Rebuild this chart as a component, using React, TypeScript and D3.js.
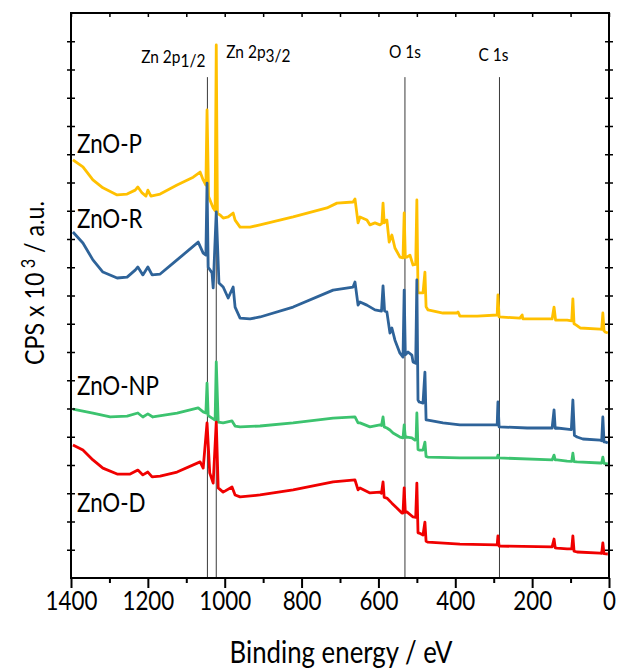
import React, { useEffect, useRef } from "react";
import * as d3 from "d3";

// [binding energy (eV), CPS x 10^3 (offset, a.u.)]
const znoP: [number, number][] = [
  [1395, 14.8], [1369, 14.55], [1343, 14.09], [1317, 13.81], [1280, 13.56], [1254, 13.59],
  [1233, 13.73], [1226, 13.84], [1215, 13.63], [1205, 13.52], [1200, 13.73], [1192, 13.52],
  [1168, 13.59], [1124, 13.91], [1082, 14.19], [1064, 14.37], [1056, 14.09], [1049, 13.91],
  [1046, 16.57], [1042, 13.5], [1030, 13.1], [1025, 13.0], [1022, 18.87], [1019, 12.9],
  [1012, 12.85], [1004, 12.74], [991, 12.78], [978, 12.92], [973, 12.67], [960, 12.42],
  [934, 12.42], [908, 12.5], [822, 12.78], [734, 13.1], [708, 13.27], [666, 13.31],
  [661, 13.42], [653, 12.57], [648, 12.78], [630, 12.67], [622, 12.5], [609, 12.57],
  [596, 12.5], [591, 12.55], [588, 13.27], [585, 12.57], [578, 12.67], [572, 11.89],
  [565, 12.14], [557, 11.68], [544, 11.36], [536, 11.33], [533, 12.92], [530, 11.35],
  [526, 11.36], [518, 11.43], [510, 11.08], [503, 11.1], [500, 13.38], [497, 10.1],
  [494, 10.09], [484, 10.09], [479, 10.83], [476, 9.6], [471, 9.49], [432, 9.38],
  [396, 9.38], [393, 9.42], [388, 9.27], [343, 9.27], [291, 9.31], [289, 10.02],
  [286, 9.24], [232, 9.2], [226, 9.31], [224, 9.17], [148, 9.17], [143, 9.59],
  [139, 9.13], [109, 9.13], [97, 9.1], [94, 9.88], [91, 9.0], [86, 8.96],
  [75, 8.85], [23, 8.81], [19, 8.8], [16, 9.38], [13, 8.75], [10, 8.71], [3, 8.67],
];

const znoR: [number, number][] = [
  [1395, 12.25], [1369, 11.86], [1343, 11.26], [1317, 10.83], [1280, 10.62], [1254, 10.65],
  [1233, 10.9], [1226, 11.01], [1213, 10.73], [1200, 11.01], [1189, 10.73], [1168, 10.76],
  [1124, 11.26], [1069, 11.89], [1056, 11.5], [1049, 11.43], [1046, 13.98], [1043, 11.0],
  [1033, 10.8], [1030, 10.27], [1022, 12.96], [1015, 10.44], [1004, 10.3], [991, 9.91],
  [978, 10.3], [973, 9.59], [960, 9.2], [934, 9.17], [908, 9.24], [822, 9.59],
  [718, 10.19], [666, 10.3], [661, 10.48], [653, 9.66], [648, 9.77], [630, 9.66],
  [609, 9.49], [592, 9.45], [588, 10.34], [584, 9.45], [578, 9.42], [570, 8.67],
  [565, 8.85], [557, 8.42], [544, 7.96], [536, 7.82], [533, 10.19], [530, 7.9],
  [523, 8.0], [513, 7.89], [510, 7.65], [503, 7.6], [500, 10.55], [497, 6.3],
  [494, 6.23], [484, 6.19], [479, 7.29], [476, 5.6], [471, 5.59], [432, 5.49],
  [388, 5.42], [291, 5.42], [289, 6.23], [286, 5.35], [213, 5.31], [148, 5.31],
  [143, 5.95], [140, 5.3], [135, 5.31], [109, 5.27], [98, 5.25], [94, 6.3],
  [90, 5.05], [83, 4.99], [68, 4.92], [23, 4.88], [19, 4.86], [16, 5.7],
  [13, 4.82], [8, 4.81], [3, 4.78],
];

const znoNP: [number, number][] = [
  [1395, 5.98], [1343, 5.84], [1298, 5.7], [1254, 5.73], [1226, 5.84], [1213, 5.7],
  [1200, 5.81], [1187, 5.7], [1124, 5.84], [1069, 6.02], [1056, 5.88], [1049, 5.84],
  [1046, 6.9], [1043, 5.75], [1033, 5.66], [1025, 5.59], [1022, 7.65], [1017, 5.52],
  [1004, 5.49], [981, 5.56], [973, 5.38], [960, 5.35], [908, 5.38], [822, 5.49],
  [718, 5.66], [661, 5.7], [653, 5.49], [648, 5.49], [622, 5.35], [596, 5.42],
  [592, 5.4], [588, 5.7], [585, 5.35], [578, 5.31], [570, 5.24], [562, 5.13],
  [544, 4.99], [536, 4.96], [533, 5.42], [530, 4.98], [526, 4.99], [513, 4.96],
  [505, 4.88], [502, 4.9], [500, 5.84], [497, 4.55], [494, 4.53], [484, 4.53],
  [479, 4.81], [476, 4.3], [471, 4.28], [388, 4.25], [291, 4.25], [289, 4.35],
  [286, 4.25], [148, 4.18], [143, 4.35], [140, 4.18], [135, 4.18], [109, 4.14],
  [97, 4.13], [94, 4.42], [91, 4.12], [83, 4.11], [23, 4.07], [19, 4.07],
  [16, 4.28], [13, 4.06], [3, 4.04],
];

const znoD: [number, number][] = [
  [1395, 4.71], [1369, 4.53], [1343, 4.18], [1317, 3.89], [1280, 3.68], [1246, 3.68],
  [1226, 3.82], [1213, 3.65], [1200, 3.75], [1189, 3.58], [1168, 3.61], [1124, 3.75],
  [1064, 4.11], [1056, 3.89], [1046, 5.49], [1039, 3.72], [1030, 3.36], [1022, 5.52],
  [1017, 3.19], [1004, 3.04], [981, 3.22], [973, 2.94], [960, 2.87], [908, 2.94],
  [822, 3.12], [718, 3.4], [661, 3.47], [653, 3.12], [648, 3.19], [622, 3.01],
  [596, 3.04], [592, 3.0], [588, 3.4], [585, 2.85], [578, 2.83], [565, 2.65],
  [552, 2.48], [539, 2.3], [536, 2.3], [533, 3.19], [530, 2.32], [526, 2.34],
  [510, 2.16], [503, 2.15], [500, 3.36], [497, 1.6], [494, 1.59], [484, 1.52],
  [479, 1.98], [476, 1.3], [471, 1.27], [388, 1.2], [291, 1.17], [289, 1.49],
  [286, 1.13], [148, 1.1], [143, 1.38], [140, 1.07], [135, 1.06], [109, 1.03],
  [97, 1.03], [94, 1.49], [91, 0.95], [83, 0.92], [23, 0.88], [19, 0.87],
  [16, 1.24], [13, 0.86], [3, 0.85],
];

const seriesNames = ["ZnO-P", "ZnO-R", "ZnO-NP", "ZnO-D"];
const seriesColors = ["#FFC000", "#2E6399", "#3CC36F", "#F00000"];

const peakNames = ["Zn 2p", "Zn 2p", "O 1s", "C 1s"];
const peakSubs = ["1/2", "3/2", "", ""];
const peakEnergies = [1045, 1022, 531, 285];
const peakLineTop = 17.73;

const xMajorTicks = [1400, 1200, 1000, 800, 600, 400, 200, 0];
const xMinorTicks = [1300, 1100, 900, 700, 500, 300, 100];

const App = () => {
  const svgRef = useRef<SVGSVGElement>(null);

  useEffect(() => {
    const width = 619;
    const height = 672;
    const margin = { top: 13, right: 10, bottom: 94, left: 71 };
    const font = "Lato, 'Open Sans', sans-serif";
    const sx = 0.86;

    const svg = d3.select(svgRef.current);
    svg.selectAll("*").remove();
    svg.attr("width", width).attr("height", height);

    const x = d3.scaleLinear().domain([1400, 0]).range([margin.left, width - margin.right]);
    const y = d3.scaleLinear().domain([0, 20]).range([height - margin.bottom, margin.top]);

    // peak marker lines
    peakEnergies.forEach((ev) => {
      svg.append("line")
        .attr("x1", x(ev)).attr("x2", x(ev))
        .attr("y1", y(peakLineTop)).attr("y2", y(0))
        .attr("stroke", "#3a3a3a")
        .attr("stroke-width", 1);
    });

    const line = d3.line<[number, number]>()
      .x((d) => x(d[0]))
      .y((d) => y(d[1]));

    [znoP, znoR, znoNP, znoD].forEach((data, i) => {
      svg.append("path")
        .datum(data)
        .attr("d", line)
        .attr("fill", "none")
        .attr("stroke", seriesColors[i])
        .attr("stroke-width", 2.8)
        .attr("stroke-linejoin", "round");
    });

    // frame
    svg.append("rect")
      .attr("x", margin.left).attr("y", margin.top)
      .attr("width", width - margin.left - margin.right)
      .attr("height", height - margin.top - margin.bottom)
      .attr("fill", "none")
      .attr("stroke", "#000")
      .attr("stroke-width", 2);

    const bottom = height - margin.bottom;
    const right = width - margin.right;

    // x axis
    const gMinor = svg.append("g").attr("transform", `translate(0,${bottom})`)
      .call(d3.axisBottom(x).tickValues(xMinorTicks).tickSize(5).tickFormat(() => ""));
    const gMajor = svg.append("g").attr("transform", `translate(0,${bottom})`)
      .call(d3.axisBottom(x).tickValues(xMajorTicks).tickSize(10).tickPadding(4).tickFormat(d3.format("d")));
    [gMinor, gMajor].forEach((g) => {
      g.select(".domain").remove();
      g.selectAll("line").attr("stroke", "#000").attr("stroke-width", 2);
    });
    gMajor.selectAll("text")
      .attr("fill", "#000")
      .style("font-family", font)
      .style("font-size", "26px")
      .attr("transform", `scale(${sx},1)`);

    // top ticks
    const gTop = svg.append("g").attr("transform", `translate(0,${margin.top})`)
      .call(d3.axisTop(x).tickValues(d3.range(0, 1401, 100)).tickSize(-4).tickFormat(() => ""));
    gTop.select(".domain").remove();
    gTop.selectAll("line").attr("stroke", "#000").attr("stroke-width", 1.5);

    // y ticks (crossing, no labels)
    const yTicks = d3.range(1, 20);
    [margin.left, right].forEach((px) => {
      [4, -4].forEach((len) => {
        const g = svg.append("g").attr("transform", `translate(${px},0)`)
          .call(d3.axisLeft(y).tickValues(yTicks).tickSize(len).tickFormat(() => ""));
        g.select(".domain").remove();
        g.selectAll("line").attr("stroke", "#000").attr("stroke-width", 1.5);
      });
    });

    // series labels
    const labelY = [153, 228, 395, 512];
    seriesNames.forEach((name, i) => {
      svg.append("text")
        .attr("transform", `translate(77,${labelY[i]}) scale(${sx},1)`)
        .style("font-family", font)
        .style("font-size", "26px")
        .text(name);
    });

    // peak labels
    const peakPos = [
      { x: x(peakEnergies[0]) - 2, y: 63, anchor: "end" },
      { x: x(peakEnergies[1]) + 10, y: 58, anchor: "start" },
      { x: x(peakEnergies[2]), y: 58, anchor: "middle" },
      { x: x(peakEnergies[3]) - 6, y: 61, anchor: "middle" },
    ];
    peakNames.forEach((name, i) => {
      const t = svg.append("text")
        .attr("transform", `translate(${peakPos[i].x},${peakPos[i].y}) scale(${sx},1)`)
        .attr("text-anchor", peakPos[i].anchor)
        .style("font-family", font)
        .style("font-size", "18px")
        .text(name);
      if (peakSubs[i]) {
        t.append("tspan").attr("dy", 4).text(peakSubs[i]);
      }
    });

    // axis titles
    svg.append("text")
      .attr("transform", `translate(341,663) scale(${sx},1)`)
      .attr("text-anchor", "middle")
      .style("font-family", font)
      .style("font-size", "30px")
      .text("Binding energy / eV");

    const yt = svg.append("text")
      .attr("transform", `translate(44,283) rotate(-90) scale(${sx},1)`)
      .attr("text-anchor", "middle")
      .style("font-family", font)
      .style("font-size", "27px");
    yt.append("tspan").text("CPS x 10");
    yt.append("tspan").attr("dy", -9).style("font-size", "19px").text(" 3");
    yt.append("tspan").attr("dy", 9).text(" / a.u.");
  }, []);

  return (
    <svg
      ref={svgRef}
      style={{ position: "absolute", left: 0, top: 0, background: "#fff" }}
    ></svg>
  );
};

export default App;
